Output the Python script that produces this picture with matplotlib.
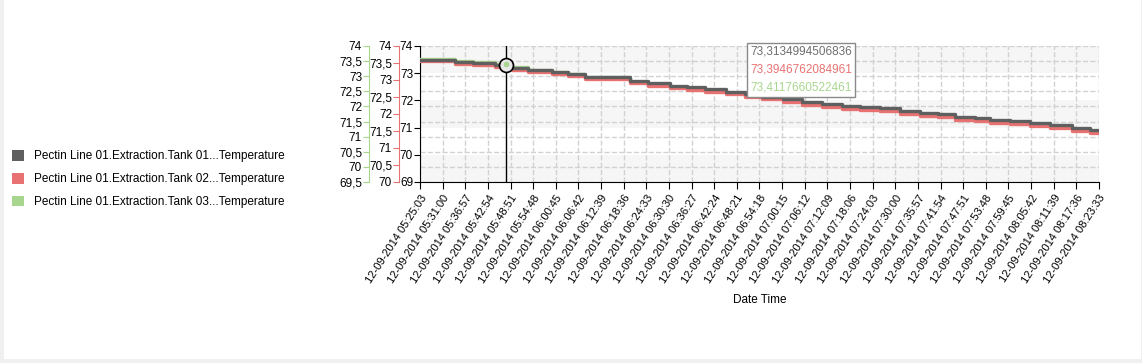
import matplotlib
matplotlib.use('Agg')
import matplotlib.pyplot as plt
import matplotlib.transforms as mtransforms
from matplotlib.patches import Patch, Rectangle
from matplotlib.ticker import FuncFormatter
from matplotlib.offsetbox import TextArea, VPacker, AnnotationBbox
import pandas as pd

plt.rcParams['font.family'] = ['Liberation Sans', 'DejaVu Sans']

# valores (tanques 01, 02 e 03, mesmo horario)
sample_times = ['05:25:03', '05:34:15', '05:38:59', '05:44:46', '05:49:14', '05:53:26',
                '05:59:45', '06:03:57', '06:08:25', '06:20:15', '06:24:59', '06:30:46',
                '06:35:14', '06:39:58', '06:45:29', '06:50:29', '06:54:57', '07:00:28',
                '07:05:28', '07:10:43', '07:15:58', '07:20:42', '07:25:58', '07:31:13',
                '07:36:29', '07:41:13', '07:45:41', '07:50:56', '07:54:53', '08:00:09',
                '08:05:24', '08:10:40', '08:16:27', '08:21:11', '08:23:33']
tank01 = [73.50, 73.40, 73.37, 73.31, 73.20, 73.12, 73.03, 72.97, 72.87, 72.72, 72.63, 72.54,
          72.48, 72.42, 72.32, 72.22, 72.14, 72.05, 71.95, 71.87, 71.80, 71.75, 71.71, 71.62,
          71.55, 71.49, 71.40, 71.34, 71.28, 71.24, 71.16, 71.08, 70.99, 70.92, 70.92]
tank02 = [73.55, 73.47, 73.44, 73.39, 73.30, 73.24, 73.17, 73.12, 73.04, 72.90, 72.83, 72.76,
          72.71, 72.66, 72.58, 72.50, 72.44, 72.35, 72.27, 72.21, 72.15, 72.11, 72.08, 72.01,
          71.95, 71.90, 71.83, 71.78, 71.74, 71.70, 71.64, 71.58, 71.50, 71.45, 71.45]
tank03 = [73.58, 73.49, 73.47, 73.41, 73.30, 73.22, 73.13, 73.07, 72.97, 72.82, 72.73, 72.65,
          72.60, 72.55, 72.44, 72.35, 72.28, 72.20, 72.11, 72.03, 71.97, 71.93, 71.89, 71.81,
          71.75, 71.69, 71.61, 71.56, 71.50, 71.47, 71.39, 71.32, 71.24, 71.18, 71.18]

tick_labels = ['12-09-2014 05:25:03', '12-09-2014 05:31:00', '12-09-2014 05:36:57',
               '12-09-2014 05:42:54', '12-09-2014 05:48:51', '12-09-2014 05:54:48',
               '12-09-2014 06:00:45', '12-09-2014 06:06:42', '12-09-2014 06:12:39',
               '12-09-2014 06:18:36', '12-09-2014 06:24:33', '12-09-2014 06:30:30',
               '12-09-2014 06:36:27', '12-09-2014 06:42:24', '12-09-2014 06:48:21',
               '12-09-2014 06:54:18', '12-09-2014 07:00:15', '12-09-2014 07:06:12',
               '12-09-2014 07:12:09', '12-09-2014 07:18:06', '12-09-2014 07:24:03',
               '12-09-2014 07:30:00', '12-09-2014 07:35:57', '12-09-2014 07:41:54',
               '12-09-2014 07:47:51', '12-09-2014 07:53:48', '12-09-2014 07:59:45',
               '12-09-2014 08:05:42', '12-09-2014 08:11:39', '12-09-2014 08:17:36',
               '12-09-2014 08:23:33']
ticks_01 = [69, 70, 71, 72, 73, 74]
ticks_02 = [70, 70.5, 71, 71.5, 72, 72.5, 73, 73.5, 74]
ticks_03 = [69.5, 70, 70.5, 71, 71.5, 72, 72.5, 73, 73.5, 74]

cursor_time = '12-09-2014 05:47:39'
cursor_values = [73.3134994506836, 73.3946762084961, 73.4117660522461]

nomes = ['Pectin Line 01.Extraction.Tank 01...Temperature',
         'Pectin Line 01.Extraction.Tank 02...Temperature',
         'Pectin Line 01.Extraction.Tank 03...Temperature']
cores = ['#5f5f5f', '#e87272', '#a8d68e']

fmt = '%d-%m-%Y %H:%M:%S'
tempos = pd.to_datetime(['12-09-2014 ' + t for t in sample_times], format=fmt)
pos_ticks = pd.to_datetime(tick_labels, format=fmt)
cursor = pd.to_datetime(cursor_time, format=fmt)

fig = plt.figure(figsize=(11.42, 3.63), dpi=100, facecolor='#f0f0f0')
fig.patches.append(Rectangle((4 / 1142, 4 / 363), 1137 / 1142, 359 / 363,
                             transform=fig.transFigure, facecolor='white',
                             edgecolor='none', zorder=-10))

ax = fig.add_axes([420 / 1142, 1 - 182 / 363, 679 / 1142, 136 / 363])
ax_r = ax.twinx()
ax_g = ax.twinx()

virgula = FuncFormatter(lambda v, p: f'{v:g}'.replace('.', ','))

# eixo principal
ax.set_ylim(69, 74)
ax.set_yticks(ticks_01)
ax.yaxis.set_major_formatter(virgula)
for s in ('top', 'right'):
    ax.spines[s].set_visible(False)
ax.tick_params(axis='y', length=4, labelsize=8.5, pad=1)

# eixos secundarios a esquerda
for a, lim, tks, off, cor in ((ax_r, (70, 74), ticks_02, 21, cores[1]),
                              (ax_g, (69.5, 74), ticks_03, 51, cores[2])):
    a.set_ylim(*lim)
    a.yaxis.tick_left()
    a.set_yticks(tks)
    a.yaxis.set_major_formatter(virgula)
    for s in ('top', 'right', 'bottom'):
        a.spines[s].set_visible(False)
    a.spines['left'].set_visible(True)
    a.spines['left'].set_position(('outward', off * 0.72))
    a.spines['left'].set_color(cor)
    a.tick_params(axis='y', length=4, color=cor, labelsize=8.5, pad=1)

# faixas e grade
ax.set_facecolor('white')
for lo in (69, 71, 73):
    ax.axhspan(lo, lo + 1, color='#f6f6f6', lw=0, zorder=0)
trans = mtransforms.blended_transform_factory(ax.transAxes, ax_g.transData)
ax.hlines(ticks_03, 0, 1, transform=trans, colors='#d2d2d2', linestyles='--', lw=1, zorder=0.5)
ax.set_axisbelow(True)
ax.grid(axis='x', color='#d2d2d2', linestyle='--', lw=1)

ax.set_xlim(tempos[0], tempos[-1])
ax.set_xticks(pos_ticks)
ax.set_xticklabels(tick_labels, rotation=57, ha='right', va='top',
                   rotation_mode='anchor', fontsize=8)
ax.tick_params(axis='x', length=5, pad=3)
ax.set_xlabel('Date Time', fontsize=8.5, labelpad=6)

# linhas: todas desenhadas no eixo de cima, cada uma com a escala do seu eixo
ax_g.plot(tempos, tank03, drawstyle='steps-post', color=cores[2], lw=2.4, zorder=2)
ax_g.plot(tempos, tank02, drawstyle='steps-post', color=cores[1], lw=2.4, zorder=3,
          transform=ax_r.transData)
ax_g.plot(tempos, tank01, drawstyle='steps-post', color=cores[0], lw=2.4, zorder=4,
          transform=ax.transData)

# cursor
ax_g.axvline(cursor, color='black', lw=1, zorder=5)
ax_g.plot([cursor], [cursor_values[0]], transform=ax.transData, marker='o', ms=10,
          mfc='#e8e8e8', mec='black', mew=1.2, zorder=6)
ax_g.plot([cursor], [cursor_values[2]], marker='o', ms=4, color=cores[2], mec='none', zorder=7)

linhas = [TextArea(f'{v}'.replace('.', ','), textprops=dict(color=c, fontsize=8.5))
          for v, c in zip(cursor_values, ['#6e6e6e', '#e87272', '#a8d68e'])]
caixa = VPacker(children=linhas, pad=0, sep=4)
ab = AnnotationBbox(caixa, (0.486, 1.0), xycoords='axes fraction', box_alignment=(0, 1),
                    frameon=True, pad=0.25, annotation_clip=False,
                    bboxprops=dict(edgecolor='#8a8a8a', facecolor='white', lw=1))
ab.set_zorder(10)
ax_g.add_artist(ab)

# legenda
fig.legend(handles=[Patch(facecolor=c, edgecolor='none') for c in cores], labels=nomes,
           loc='upper left', bbox_to_anchor=(12 / 1142, 1 - 150 / 363), frameon=False,
           fontsize=8.5, handlelength=1.0, handleheight=1.0, handletextpad=0.9,
           labelspacing=0.9, borderpad=0, borderaxespad=0)

fig.savefig('out.png', dpi=100, facecolor=fig.get_facecolor())
